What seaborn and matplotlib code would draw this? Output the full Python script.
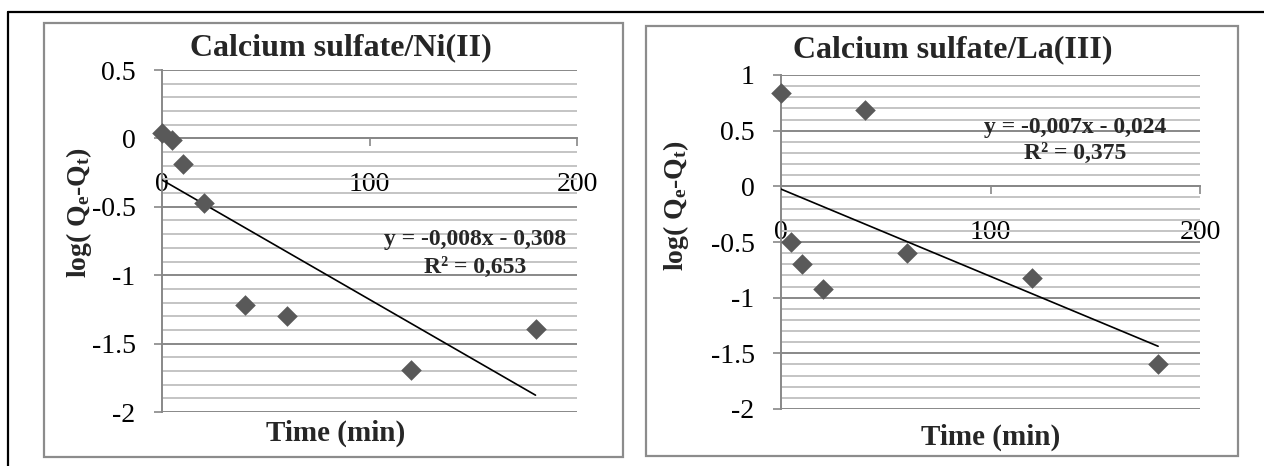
import numpy as np
import pandas as pd
import matplotlib
matplotlib.use("Agg")
import matplotlib.pyplot as plt
import seaborn as sns
from matplotlib.ticker import MultipleLocator
from matplotlib.lines import Line2D
from matplotlib.patches import Rectangle

# ---- data ----
time_min = [0, 5, 10, 20, 40, 60, 120, 180]
ni_log = [0.04, -0.01, -0.19, -0.47, -1.22, -1.30, -1.69, -1.39]
la_log = [0.84, -0.50, -0.70, -0.92, 0.69, -0.60, -0.82, -1.60]
titles = ["Calcium sulfate/Ni(II)", "Calcium sulfate/La(III)"]
eq_texts = ["y = -0,008x - 0,308", "y = -0,007x - 0,024"]
r2_texts = ["R² = 0,653", "R² = 0,375"]
ylims = [(-2, 0.5), (-2, 1)]
x_ticks = [0, 100, 200]

sns.set_theme(style="white")
plt.rcParams["font.family"] = ["Liberation Serif", "DejaVu Serif"]
plt.rcParams["mathtext.fontset"] = "custom"
plt.rcParams["mathtext.rm"] = "Liberation Serif:bold"
plt.rcParams["mathtext.bf"] = "Liberation Serif:bold"
plt.rcParams["mathtext.it"] = "Liberation Serif:bold"
plt.rcParams["mathtext.default"] = "bf"

W, H = 1264, 466
fig = plt.figure(figsize=(W / 100, H / 100), dpi=100)
fig.patch.set_facecolor("white")

def fx(x):
    return x / W

def fy(y):
    return 1 - y / H

# outer black frame lines
fig.add_artist(Line2D([fx(8), fx(1264)], [fy(12), fy(12)], color="black", lw=1.6))
fig.add_artist(Line2D([fx(8), fx(8)], [fy(12), fy(466)], color="black", lw=1.6))

# chart frames (gray)
for (x0, y0, x1, y1) in [(44, 23, 623, 457), (646, 26, 1238, 456)]:
    fig.add_artist(Rectangle((fx(x0), fy(y1)), fx(x1 - x0), (y1 - y0) / H,
                             fill=False, edgecolor="#8c8c8c", lw=1.6))

plot_boxes = [(162, 70, 577, 412), (781, 75, 1200, 409)]
title_pos = [(341, 48), (953, 50)]
ylabel_pos = [(79, 212), (676, 205)]
xlabel_pos = [(336, 433), (991, 437)]
eq_pos = [(475, 239, 267), (1075, 127, 153)]

series = [ni_log, la_log]
grid_major = "#888888"
grid_minor = "#c4c4c4"

for i in range(2):
    x0, y0, x1, y1 = plot_boxes[i]
    ax = fig.add_axes([fx(x0), fy(y1), fx(x1 - x0), (y1 - y0) / H])
    df = pd.DataFrame({"t": time_min, "v": series[i]})
    sns.scatterplot(data=df, x="t", y="v", ax=ax, marker="D", s=110,
                    color="#595959", edgecolor="#595959", linewidth=0, zorder=5,
                    clip_on=False)
    # linear trendline from data
    coef = np.polyfit(time_min, series[i], 1)
    tl = pd.DataFrame({"t": [min(time_min), max(time_min)]})
    tl["v"] = np.polyval(coef, tl["t"])
    sns.lineplot(data=tl, x="t", y="v", ax=ax, color="black", lw=1.2, zorder=4)

    ax.set_xlim(0, 200)
    ax.set_ylim(*ylims[i])
    ax.set_xticks(x_ticks)
    ax.yaxis.set_major_locator(MultipleLocator(0.5))
    ax.yaxis.set_minor_locator(MultipleLocator(0.1))
    ax.set_yticklabels([("%g" % v) for v in ax.get_yticks()])
    ax.grid(False)
    ax.grid(which="minor", axis="y", color=grid_minor, lw=1.4, zorder=0)
    ax.grid(which="major", axis="y", color=grid_major, lw=1.4, zorder=1)
    ax.set_axisbelow(True)
    for s in ["top", "right"]:
        ax.spines[s].set_visible(False)
    ax.spines["bottom"].set_position(("data", 0))
    ax.spines["bottom"].set_color(grid_major)
    ax.spines["bottom"].set_linewidth(1.4)
    ax.spines["left"].set_color(grid_major)
    ax.spines["left"].set_linewidth(1.4)
    ax.tick_params(axis="y", which="major", direction="out", length=6, width=1.2,
                   color=grid_major, pad=13, labelsize=20, left=True)
    ax.tick_params(axis="y", which="minor", length=0)
    ax.tick_params(axis="x", which="major", direction="out", length=6, width=1.2,
                   color=grid_major, pad=18, labelsize=20, bottom=True)
    for lab in ax.get_xticklabels() + ax.get_yticklabels():
        lab.set_color("black")
    ax.set_xlabel("")
    ax.set_ylabel("")
    ax.patch.set_alpha(0)

    tx, ty = title_pos[i]
    fig.text(fx(tx), fy(ty), titles[i], ha="center", va="center",
             fontsize=23, fontweight="bold")
    lx, ly = ylabel_pos[i]
    fig.text(fx(lx), fy(ly), r"log( Q$_{e}$-Q$_{t}$)", ha="center", va="center",
             rotation=90, fontsize=20, fontweight="bold")
    xx, xy = xlabel_pos[i]
    fig.text(fx(xx), fy(xy), "Time (min)", ha="center", va="center",
             fontsize=21, fontweight="bold")
    ex, ey1, ey2 = eq_pos[i]
    fig.text(fx(ex), fy(ey1), eq_texts[i], ha="center", va="center",
             fontsize=17, fontweight="bold")
    fig.text(fx(ex), fy(ey2), r2_texts[i], ha="center", va="center",
             fontsize=17, fontweight="bold")

fig.savefig("out.png", dpi=100, facecolor="white")
